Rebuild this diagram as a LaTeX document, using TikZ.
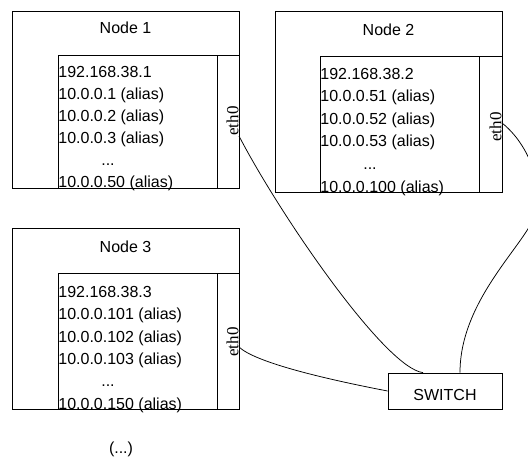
\documentclass[tikz,border=0pt]{standalone}
\usepackage{fontspec}
\setmainfont{Liberation Sans}
\newfontfamily\ifacefont{Liberation Serif}
\usetikzlibrary{calc,positioning}

\begin{document}
\begin{tikzpicture}[x=1pt,y=-1pt,line width=0.75pt,
	box/.style={draw,anchor=north west,inner sep=0pt},
	addr/.style={anchor=base west,inner sep=0pt,font=\fontsize{16}{19}\selectfont},
	title/.style={anchor=base,inner sep=0pt,font=\fontsize{16}{19}\selectfont},
	iface/.style={rotate=90,anchor=south,inner sep=0pt,font=\ifacefont\fontsize{17}{20}\selectfont},
	switchbox/.style={draw,minimum width=114pt,minimum height=36pt,inner sep=0pt,text height=19pt,text depth=0pt,font=\fontsize{16}{19}\selectfont}]
	\useasboundingbox (0,0) rectangle (528,459);

		\node[box,minimum width=227pt,minimum height=176.5pt] (host1) at (12,11) {};
		\node[box,minimum width=181pt,minimum height=132.5pt] (list1) at (58,55) {};
		\node[box,minimum width=22.3pt,minimum height=132.5pt] (port1) at (216.7,55) {};
		\node[title] (name1) at (125.5,33.5) {Node 1};
		\node[addr] (ip1) at (58,77.5) {192.168.38.1};
		\node[addr] (a1) at (58,99.5) {10.0.0.1 (alias)};
		\node[addr] (b1) at (58,121.5) {10.0.0.2 (alias)};
		\node[addr] (c1) at (58,143.5) {10.0.0.3 (alias)};
		\node[title] (dots1) at (108,165.5) {...};
		\node[addr] (z1) at (58,187.5) {10.0.0.50 (alias)};
		\node[iface] (n1eth) at (239,121) {eth0};

		\node[box,minimum width=227pt,minimum height=181pt] (host2) at (275,11) {};
		\node[box,minimum width=182pt,minimum height=136pt] (list2) at (320,56) {};
		\node[box,minimum width=23pt,minimum height=136pt] (port2) at (479,56) {};
		\node[title] (name2) at (388.5,35) {Node 2};
		\node[addr] (ip2) at (320,79) {192.168.38.2};
		\node[addr] (a2) at (320,101.6) {10.0.0.51 (alias)};
		\node[addr] (b2) at (320,124.2) {10.0.0.52 (alias)};
		\node[addr] (c2) at (320,146.8) {10.0.0.53 (alias)};
		\node[title] (dots2) at (370,169.4) {...};
		\node[addr] (z2) at (320,192) {10.0.0.100 (alias)};
		\node[iface] (n2eth) at (502,127) {eth0};

		\node[box,minimum width=227pt,minimum height=181pt] (host3) at (12,228) {};
		\node[box,minimum width=181pt,minimum height=136pt] (list3) at (58,273) {};
		\node[box,minimum width=22.3pt,minimum height=136pt] (port3) at (216.7,273) {};
		\node[title] (name3) at (125.5,252.3) {Node 3};
		\node[addr] (ip3) at (58,297.3) {192.168.38.3};
		\node[addr] (a3) at (58,319.7) {10.0.0.101 (alias)};
		\node[addr] (b3) at (58,342) {10.0.0.102 (alias)};
		\node[addr] (c3) at (58,364.4) {10.0.0.103 (alias)};
		\node[title] (dots3) at (108,386.7) {...};
		\node[addr] (z3) at (58,409) {10.0.0.150 (alias)};
		\node[iface] (n3eth) at (239,342) {eth0};

		\node[switchbox] (switch) at (445,391) {SWITCH};
		\node[title] (more) at (121,453) {(...)};

		\draw (n1eth.south west) .. controls (280,215) and (385,368) .. ([xshift=-22pt]switch.north);
		\draw ([yshift=4pt]n2eth.south) .. controls (530,145) and (545,190) .. (535,215) .. controls (525,245) and (460,300) .. ([xshift=15pt]switch.north);
		\draw ([yshift=-5pt]n3eth.south) .. controls (255,362) and (320,378) .. (switch.west);
\end{tikzpicture}
\end{document}
